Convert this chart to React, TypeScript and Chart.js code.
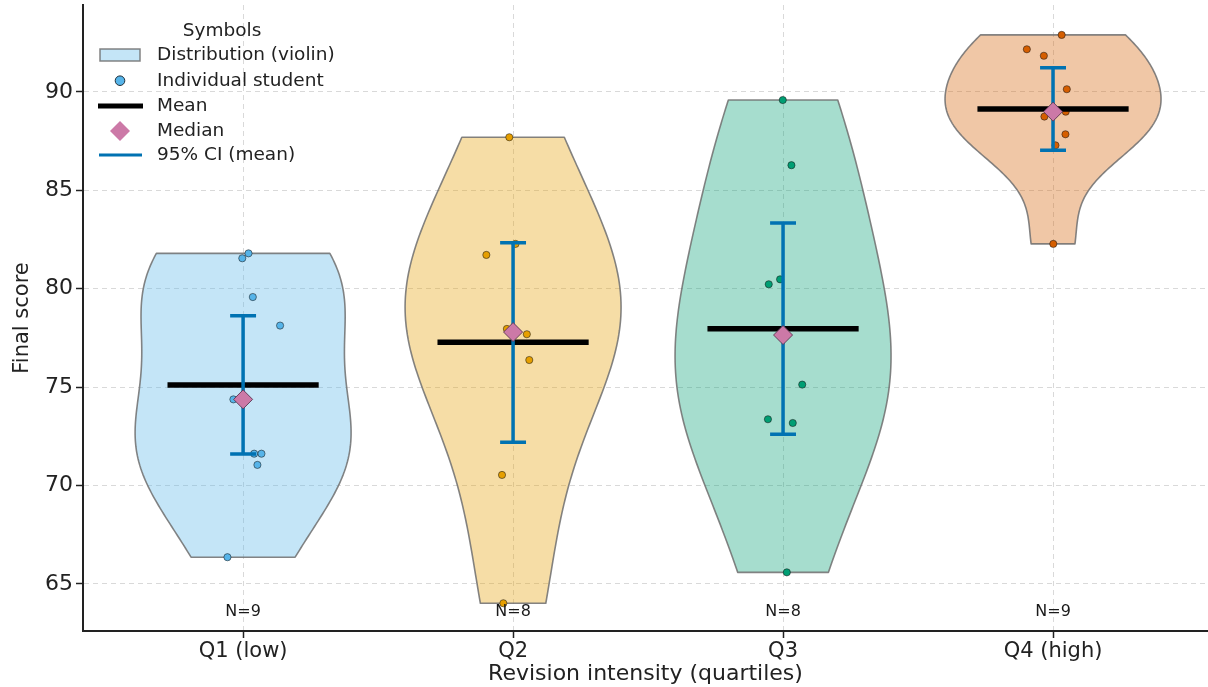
import React, { useEffect, useRef } from 'react';
import { Chart, registerables } from 'chart.js';

Chart.register(...registerables);

const FONT = '"DejaVu Sans", "Liberation Sans", sans-serif';

const categories = ['Q1 (low)', 'Q2', 'Q3', 'Q4 (high)'];

// Individual student scores
const q1Scores = [81.8, 81.55, 79.58, 78.13, 74.38, 71.62, 71.62, 71.05, 66.36];
const q2Scores = [87.7, 82.28, 81.72, 77.96, 77.69, 76.38, 70.54, 64.02];
const q3Scores = [89.59, 86.28, 80.48, 80.23, 75.13, 73.37, 73.18, 65.59];
const q4Scores = [92.9, 92.17, 91.84, 90.14, 89.0, 88.75, 87.85, 87.29, 82.28];

// Horizontal jitter of each dot (category units)
const q1Jitter = [0.02, -0.003, 0.036, 0.137, -0.036, 0.041, 0.068, 0.053, -0.058];
const q2Jitter = [-0.014, 0.009, -0.099, -0.023, 0.051, 0.06, -0.041, -0.036];
const q3Jitter = [-0.001, 0.031, -0.011, -0.053, 0.071, -0.056, 0.036, 0.014];
const q4Jitter = [0.032, -0.097, -0.034, 0.051, 0.047, -0.032, 0.046, 0.009, 0.001];

const means = [75.11, 77.28, 77.97, 89.14];
const medians = [74.38, 77.8, 77.65, 89.0];
const ciLow = [71.6, 72.2, 72.61, 87.04];
const ciHigh = [78.63, 82.34, 83.34, 91.23];
const counts = [9, 8, 8, 9];

const scores = [q1Scores, q2Scores, q3Scores, q4Scores];
const jitters = [q1Jitter, q2Jitter, q3Jitter, q4Jitter];

const baseColors = ['#56B4E9', '#E69F00', '#009E73', '#D55E00'];
const fillColors = [
  'rgba(86,180,233,0.35)',
  'rgba(230,159,0,0.35)',
  'rgba(0,158,115,0.35)',
  'rgba(213,94,0,0.35)',
];

const VIOLIN_WIDTH = 0.8;
const MEAN_HALF = 0.28;
const CAP_HALF = 0.048;

// Gaussian KDE (Scott's rule) of each group's scores, like a violin plot
function violinProfile(vals: number[]) {
  const n = vals.length;
  const m = vals.reduce((a, b) => a + b, 0) / n;
  const sd = Math.sqrt(vals.reduce((a, b) => a + (b - m) * (b - m), 0) / (n - 1));
  const bw = sd * Math.pow(n, -1 / 5);
  const lo = Math.min(...vals);
  const hi = Math.max(...vals);
  const pts: { y: number; d: number }[] = [];
  const steps = 100;
  for (let i = 0; i < steps; i++) {
    const y = lo + ((hi - lo) * i) / (steps - 1);
    let d = 0;
    for (const v of vals) d += Math.exp(-0.5 * ((y - v) / bw) ** 2);
    pts.push({ y, d });
  }
  const maxD = Math.max(...pts.map((p) => p.d));
  return pts.map((p) => ({ y: p.y, w: (p.d / maxD) * (VIOLIN_WIDTH / 2) }));
}

const violinPlugin = {
  id: 'violins',
  beforeDatasetsDraw(chart: any) {
    const { ctx, chartArea } = chart;
    const xs = chart.scales.x;
    const ys = chart.scales.y;
    ctx.save();
    ctx.beginPath();
    ctx.rect(chartArea.left, chartArea.top, chartArea.right - chartArea.left, chartArea.bottom - chartArea.top);
    ctx.clip();
    scores.forEach((vals, i) => {
      const prof = violinProfile(vals);
      ctx.beginPath();
      prof.forEach((p, k) => {
        const px = xs.getPixelForValue(i + p.w);
        const py = ys.getPixelForValue(p.y);
        if (k === 0) ctx.moveTo(px, py);
        else ctx.lineTo(px, py);
      });
      for (let k = prof.length - 1; k >= 0; k--) {
        const p = prof[k];
        ctx.lineTo(xs.getPixelForValue(i - p.w), ys.getPixelForValue(p.y));
      }
      ctx.closePath();
      ctx.fillStyle = fillColors[i];
      ctx.fill();
      ctx.lineWidth = 1.6;
      ctx.strokeStyle = 'rgba(110,110,110,0.85)';
      ctx.lineJoin = 'round';
      ctx.stroke();
    });
    ctx.restore();
  },
  afterDatasetsDraw(chart: any) {
    const { ctx } = chart;
    const xs = chart.scales.x;
    const ys = chart.scales.y;
    ctx.save();
    ctx.font = `16px ${FONT}`;
    ctx.fillStyle = '#1a1a1a';
    ctx.textAlign = 'center';
    ctx.textBaseline = 'middle';
    counts.forEach((n, i) => {
      ctx.fillText(`N=${n}`, xs.getPixelForValue(i), ys.getPixelForValue(63.59));
    });
    ctx.restore();
  },
  afterDraw(chart: any) {
    const { ctx } = chart;
    ctx.save();
    const fs = 18.5;
    ctx.font = `${fs}px ${FONT}`;
    ctx.fillStyle = '#222';
    ctx.textBaseline = 'middle';
    ctx.textAlign = 'center';
    ctx.fillText('Symbols', 222, 31);
    ctx.textAlign = 'left';
    const tx = 157;
    const rows = [55, 80.7, 106, 131, 155];
    const labels = ['Distribution (violin)', 'Individual student', 'Mean', 'Median', '95% CI (mean)'];
    labels.forEach((l, k) => ctx.fillText(l, tx, rows[k]));
    // violin patch
    ctx.fillStyle = fillColors[0];
    ctx.fillRect(100, rows[0] - 6, 40, 12);
    ctx.strokeStyle = 'rgba(110,110,110,0.85)';
    ctx.lineWidth = 1.5;
    ctx.strokeRect(100, rows[0] - 6, 40, 12);
    // student dot
    ctx.beginPath();
    ctx.arc(120, rows[1], 4.8, 0, Math.PI * 2);
    ctx.fillStyle = baseColors[0];
    ctx.fill();
    ctx.lineWidth = 1;
    ctx.strokeStyle = '#1f2f3a';
    ctx.stroke();
    // mean
    ctx.beginPath();
    ctx.moveTo(98, rows[2]);
    ctx.lineTo(143, rows[2]);
    ctx.lineWidth = 5;
    ctx.strokeStyle = '#000';
    ctx.stroke();
    // median diamond
    ctx.beginPath();
    ctx.moveTo(110, rows[3]);
    ctx.lineTo(120, rows[3] - 10);
    ctx.lineTo(130, rows[3]);
    ctx.lineTo(120, rows[3] + 10);
    ctx.closePath();
    ctx.fillStyle = '#CC79A7';
    ctx.fill();
    // CI
    ctx.beginPath();
    ctx.moveTo(99, rows[4]);
    ctx.lineTo(142, rows[4]);
    ctx.lineWidth = 2.8;
    ctx.strokeStyle = '#0072B2';
    ctx.stroke();
    ctx.restore();
  },
};

export default function App() {
  const ref = useRef<HTMLCanvasElement | null>(null);

  useEffect(() => {
    document.body.style.margin = '0';
    const canvas = ref.current;
    if (!canvas) return;

    const pointData = scores.map((vals, i) => vals.map((v, k) => ({ x: i + jitters[i][k], y: v })));

    const datasets: any[] = [];
    // median diamonds (top)
    datasets.push({
      type: 'scatter',
      label: 'Median',
      data: medians.map((m, i) => ({ x: i, y: m })),
      pointStyle: 'rectRot',
      pointRadius: 9.5,
      backgroundColor: '#CC79A7',
      borderColor: '#5a3550',
      borderWidth: 0.9,
      order: 0,
    });
    // CI bars
    means.forEach((_, i) => {
      datasets.push({
        type: 'line',
        label: `CI ${i}`,
        data: [
          { x: i - CAP_HALF, y: ciHigh[i] },
          { x: i + CAP_HALF, y: ciHigh[i] },
          { x: i, y: null },
          { x: i, y: ciHigh[i] },
          { x: i, y: ciLow[i] },
          { x: i + 0.001, y: null },
          { x: i - CAP_HALF, y: ciLow[i] },
          { x: i + CAP_HALF, y: ciLow[i] },
        ],
        borderColor: '#0072B2',
        borderWidth: 3.5,
        pointRadius: 0,
        spanGaps: false,
        fill: false,
        tension: 0,
        borderCapStyle: 'butt',
        order: 1,
      });
    });
    // mean lines
    means.forEach((m, i) => {
      datasets.push({
        type: 'line',
        label: `Mean ${i}`,
        data: [
          { x: i - MEAN_HALF, y: m },
          { x: i + MEAN_HALF, y: m },
        ],
        borderColor: '#000',
        borderWidth: 5.5,
        pointRadius: 0,
        fill: false,
        borderCapStyle: 'butt',
        order: 2,
      });
    });
    // students
    pointData.forEach((d, i) => {
      datasets.push({
        type: 'scatter',
        label: `Students ${i}`,
        data: d,
        pointRadius: 3.6,
        backgroundColor: baseColors[i],
        borderColor: 'rgba(20,20,20,0.75)',
        borderWidth: 0.7,
        order: 3,
      });
    });

    const tickFont = { family: FONT, size: 21 };
    const chart = new Chart(canvas, {
      type: 'scatter',
      data: { datasets },
      plugins: [violinPlugin],
      options: {
        responsive: false,
        animation: false,
        devicePixelRatio: 1,
        layout: { autoPadding: false, padding: { top: 5, right: 0, left: 0, bottom: 0 } },
        plugins: {
          legend: { display: false },
          tooltip: { enabled: false },
        },
        scales: {
          x: {
            type: 'linear',
            min: -0.593,
            max: 3.574,
            afterFit: (s: any) => {
              s.height = 56;
              s.paddingLeft = 0;
              s.paddingRight = 0;
              s.paddingTop = 0;
              s.paddingBottom = 0;
            },
            ticks: {
              stepSize: 1,
              includeBounds: false,
              autoSkip: false,
              maxRotation: 0,
              font: tickFont,
              color: '#222',
              padding: 1,
              callback: (v: any) => (Number.isInteger(v) && categories[v] ? categories[v] : ''),
            },
            grid: {
              color: 'rgba(0,0,0,0.15)',
              lineWidth: 1,
              tickColor: '#222',
              tickLength: 7,
              tickWidth: 1.5,
              tickBorderDash: [],
            },
            border: { display: true, color: '#222', width: 2, dash: [5, 4] },
            title: {
              display: true,
              text: 'Revision intensity (quartiles)',
              font: { family: FONT, size: 22 },
              color: '#222',
              padding: { top: 0, bottom: 0 },
            },
          },
          y: {
            type: 'linear',
            min: 62.61,
            max: 94.42,
            afterFit: (s: any) => {
              s.width = 83;
              s.paddingLeft = 0;
              s.paddingRight = 0;
              s.paddingTop = 0;
              s.paddingBottom = 0;
            },
            ticks: {
              stepSize: 5,
              includeBounds: false,
              font: { family: FONT, size: 22 },
              color: '#222',
              padding: 3,
            },
            grid: {
              color: 'rgba(0,0,0,0.15)',
              lineWidth: 1,
              tickColor: '#222',
              tickLength: 7,
              tickWidth: 1.5,
              tickBorderDash: [],
            },
            border: { display: true, color: '#222', width: 2, dash: [5, 4] },
            title: {
              display: true,
              text: 'Final score',
              font: { family: FONT, size: 21 },
              color: '#222',
              padding: { top: 10, bottom: 0 },
            },
          },
        },
      } as any,
    });
    return () => chart.destroy();
  }, []);

  return (
    <div style={{ width: 1208, height: 687, position: 'relative', background: '#fff' }}>
      <canvas ref={ref} width={1208} height={687} style={{ display: 'block', width: 1208, height: 687 }} />
    </div>
  );
}
